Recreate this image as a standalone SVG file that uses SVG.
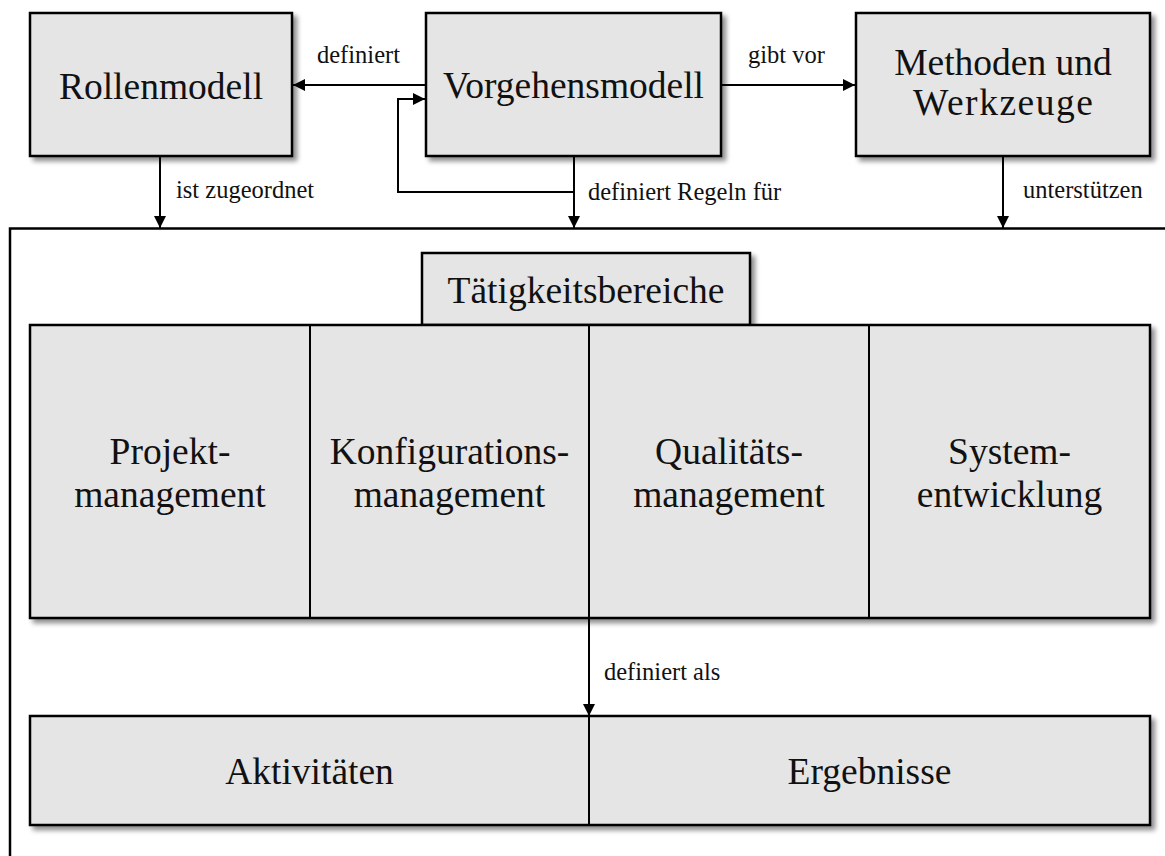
<svg xmlns="http://www.w3.org/2000/svg" width="1165" height="856" viewBox="0 0 1165 856">
<defs>
<style>
.box{fill:#e5e5e5;stroke:#000;stroke-width:2.5}
.big{font-family:"Liberation Serif","Times New Roman",serif;font-size:37.5px;fill:#111;text-anchor:middle}
.lbl{font-family:"Liberation Serif","Times New Roman",serif;font-size:24.5px;fill:#111}
.ln{fill:none;stroke:#000;stroke-width:2}
.div{stroke:#000;stroke-width:2}
</style>
<filter id="sh" x="-10%" y="-10%" width="130%" height="130%">
<feGaussianBlur in="SourceAlpha" stdDeviation="2.5"/>
<feOffset dx="4" dy="4" result="b"/>
<feComponentTransfer><feFuncA type="linear" slope="0.45"/></feComponentTransfer>
<feMerge><feMergeNode/><feMergeNode in="SourceGraphic"/></feMerge>
</filter>
<marker id="ah" viewBox="0 0 12 12" refX="12" refY="6" markerWidth="12" markerHeight="12" markerUnits="userSpaceOnUse" orient="auto">
<path d="M0,0 L12,6 L0,12 Z" fill="#000"/>
</marker>
</defs>
<rect width="1165" height="856" fill="#fff"/>

<g id="frame">
<path d="M10,856 L10,228.5 L1165,228.5" fill="none" stroke="#000" stroke-width="2.5"/>
</g>

<g id="rollenmodell">
<rect class="box" x="30" y="13" width="262" height="143" filter="url(#sh)"/>
<text class="big" x="161" y="99">Rollenmodell</text>
</g>

<g id="vorgehensmodell">
<rect class="box" x="426" y="13" width="295" height="143" filter="url(#sh)"/>
<text class="big" x="573.5" y="98">Vorgehensmodell</text>
</g>

<g id="methoden">
<rect class="box" x="856" y="13" width="294" height="143" filter="url(#sh)"/>
<text class="big" x="1003" y="75">Methoden und</text>
<text class="big" x="1003" y="115" textLength="180" lengthAdjust="spacing">Werkzeuge</text>
</g>

<g id="taetigkeitsbereiche">
<rect class="box" x="422" y="253" width="328" height="72" filter="url(#sh)"/>
<text class="big" x="586" y="303">Tätigkeitsbereiche</text>
</g>

<g id="bereiche">
<rect class="box" x="30" y="325" width="1120" height="293" filter="url(#sh)"/>
<line class="div" x1="310" y1="325" x2="310" y2="618"/>
<line class="div" x1="589" y1="325" x2="589" y2="618"/>
<line class="div" x1="869" y1="325" x2="869" y2="618"/>
</g>
<g id="projektmanagement">
<text class="big" x="170" y="464">Projekt-</text>
<text class="big" x="170" y="507">management</text>
</g>
<g id="konfigurationsmanagement">
<text class="big" x="449.5" y="464">Konfigurations-</text>
<text class="big" x="449.5" y="507">management</text>
</g>
<g id="qualitaetsmanagement">
<text class="big" x="729" y="464">Qualitäts-</text>
<text class="big" x="729" y="507">management</text>
</g>
<g id="systementwicklung">
<text class="big" x="1009.5" y="464">System-</text>
<text class="big" x="1009.5" y="507">entwicklung</text>
</g>

<g id="ergebnistypen">
<rect class="box" x="30" y="716" width="1120" height="109" filter="url(#sh)"/>
<line class="div" x1="589" y1="716" x2="589" y2="825"/>
</g>
<g id="aktivitaeten">
<text class="big" x="309.5" y="784">Aktivitäten</text>
</g>
<g id="ergebnisse">
<text class="big" x="869.5" y="784">Ergebnisse</text>
</g>

<g id="connectors">
<line class="ln" x1="426" y1="85" x2="293" y2="85" marker-end="url(#ah)"/>
<line class="ln" x1="721" y1="85" x2="855" y2="85" marker-end="url(#ah)"/>
<line class="ln" x1="160" y1="157" x2="160" y2="228" marker-end="url(#ah)"/>
<line class="ln" x1="574" y1="157" x2="574" y2="228" marker-end="url(#ah)"/>
<polyline class="ln" points="574,192 398,192 398,99 425,99" marker-end="url(#ah)"/>
<line class="ln" x1="1003" y1="157" x2="1003" y2="228" marker-end="url(#ah)"/>
<line class="ln" x1="589" y1="619" x2="589" y2="716" marker-end="url(#ah)"/>
<text class="lbl" x="317" y="63">definiert</text>
<text class="lbl" x="748" y="63">gibt vor</text>
<text class="lbl" x="176" y="198">ist zugeordnet</text>
<text class="lbl" x="588" y="200">definiert Regeln für</text>
<text class="lbl" x="1023" y="198">unterstützen</text>
<text class="lbl" x="604" y="680">definiert als</text>
</g>
</svg>
